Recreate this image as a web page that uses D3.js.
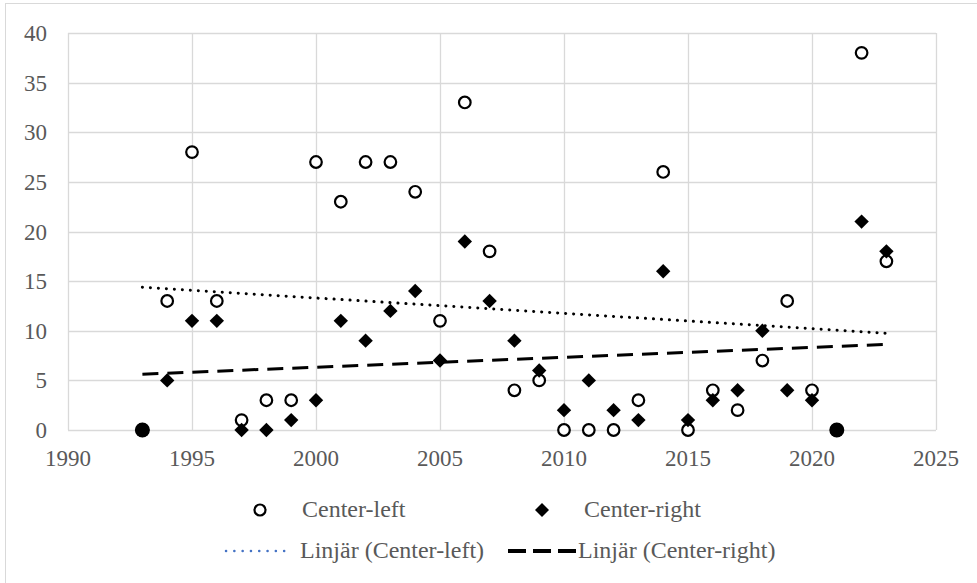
<!DOCTYPE html>
<html>
<head>
<meta charset="utf-8">
<script src="https://cdn.jsdelivr.net/npm/d3@7"></script>
<style>
  body { margin: 0; background: #fff; }
  svg { display: block; font-family: "Liberation Serif", "Times New Roman", serif; }
</style>
</head>
<body>
<div id="viz"></div>
<script>
// years and series values
var years = [1993, 1994, 1995, 1996, 1997, 1998, 1999, 2000, 2001, 2002, 2003, 2004, 2005, 2006, 2007,
             2008, 2009, 2010, 2011, 2012, 2013, 2014, 2015, 2016, 2017, 2018, 2019, 2020, 2021, 2022, 2023];
var centerLeft  = [0, 13, 28, 13, 1, 3, 3, 27, 23, 27, 27, 24, 11, 33, 18,
                   4, 5, 0, 0, 0, 3, 26, 0, 4, 2, 7, 13, 4, 0, 38, 17];
var centerRight = [0, 5, 11, 11, 0, 0, 1, 3, 11, 9, 12, 14, 7, 19, 13,
                   9, 6, 2, 5, 2, 1, 16, 1, 3, 4, 10, 4, 3, 0, 21, 18];
var xTicks = [1990, 1995, 2000, 2005, 2010, 2015, 2020, 2025];
var yTicks = [0, 5, 10, 15, 20, 25, 30, 35, 40];
var legendLabels = ['Center-left', 'Center-right', 'Linjär (Center-left)', 'Linjär (Center-right)'];

var width = 977, height = 583;
var margin = {left: 68, right: 41, top: 33, bottom: 153};

var svg = d3.select('#viz').append('svg')
  .attr('width', width)
  .attr('height', height);

// outer frame (right and bottom edges fall outside the picture)
svg.append('rect')
  .attr('x', 5.5).attr('y', 3.5)
  .attr('width', 980).attr('height', 590)
  .attr('fill', 'white')
  .attr('stroke', '#d9d9d9')
  .attr('stroke-width', 1);

var xScale = d3.scaleLinear()
  .domain([1990, 2025])
  .range([margin.left, width - margin.right]);

var yScale = d3.scaleLinear()
  .domain([0, 40])
  .range([height - margin.bottom, margin.top]);

// gridlines
svg.append('g')
  .selectAll('line').data(yTicks)
  .enter().append('line')
  .attr('x1', xScale(1990)).attr('x2', xScale(2025))
  .attr('y1', function(d){ return Math.round(yScale(d)) + 0.5; })
  .attr('y2', function(d){ return Math.round(yScale(d)) + 0.5; })
  .attr('stroke', '#d9d9d9').attr('stroke-width', 1.3);

svg.append('g')
  .selectAll('line').data(xTicks)
  .enter().append('line')
  .attr('y1', yScale(0)).attr('y2', yScale(40))
  .attr('x1', function(d){ return Math.round(xScale(d)) + 0.5; })
  .attr('x2', function(d){ return Math.round(xScale(d)) + 0.5; })
  .attr('stroke', '#d9d9d9').attr('stroke-width', 1.3);

// tick labels
svg.append('g')
  .selectAll('text').data(yTicks)
  .enter().append('text')
  .attr('x', 47)
  .attr('y', function(d){ return yScale(d) + 8; })
  .attr('text-anchor', 'end')
  .attr('font-size', 23)
  .attr('fill', '#595959')
  .text(function(d){ return d; });

svg.append('g')
  .selectAll('text').data(xTicks)
  .enter().append('text')
  .attr('x', function(d){ return xScale(d); })
  .attr('y', 466)
  .attr('text-anchor', 'middle')
  .attr('font-size', 23)
  .attr('fill', '#595959')
  .text(function(d){ return d; });

// linear trend (least squares)
function trend(xs, ys) {
  var mx = d3.mean(xs), my = d3.mean(ys);
  var num = d3.sum(xs, function(x, i){ return (x - mx) * (ys[i] - my); });
  var den = d3.sum(xs, function(x){ return (x - mx) * (x - mx); });
  var b = num / den, a = my - b * mx;
  var x0 = d3.min(xs), x1 = d3.max(xs);
  return [[x0, a + b * x0], [x1, a + b * x1]];
}

var line = d3.line()
  .x(function(d){ return xScale(d[0]); })
  .y(function(d){ return yScale(d[1]); });

svg.append('path')
  .attr('d', line(trend(years, centerLeft)))
  .attr('fill', 'none')
  .attr('stroke', 'black')
  .attr('stroke-width', 3)
  .attr('stroke-linecap', 'round')
  .attr('stroke-dasharray', '0.1 7.9');

svg.append('path')
  .attr('d', line(trend(years, centerRight)))
  .attr('fill', 'none')
  .attr('stroke', 'black')
  .attr('stroke-width', 3)
  .attr('stroke-dasharray', '16 9');

var diamond = 'M0,-7.2L7.2,0L0,7.2L-7.2,0Z';

// center-left circles
svg.append('g')
  .selectAll('circle').data(years)
  .enter().append('circle')
  .attr('cx', function(d){ return xScale(d); })
  .attr('cy', function(d, i){ return yScale(centerLeft[i]); })
  .attr('r', 5.8)
  .attr('fill', 'white')
  .attr('stroke', 'black')
  .attr('stroke-width', 2.2);

// center-right diamonds
svg.append('g')
  .selectAll('path').data(years)
  .enter().append('path')
  .attr('transform', function(d, i){ return 'translate(' + xScale(d) + ',' + yScale(centerRight[i]) + ')'; })
  .attr('d', diamond)
  .attr('fill', 'black');

// where both series meet, the marker shows as a solid dot
svg.append('g')
  .selectAll('circle').data(years.filter(function(d, i){ return centerLeft[i] === centerRight[i]; }))
  .enter().append('circle')
  .attr('cx', function(d){ return xScale(d); })
  .attr('cy', function(d){ var i = years.indexOf(d); return yScale(centerLeft[i]); })
  .attr('r', 7.5)
  .attr('fill', 'black');

// legend
var lg = svg.append('g').attr('font-size', 24).attr('fill', '#595959');

lg.append('circle')
  .attr('cx', 260).attr('cy', 510).attr('r', 5.5)
  .attr('fill', 'white').attr('stroke', 'black').attr('stroke-width', 2.2);
lg.append('text').attr('x', 302).attr('y', 517).text(legendLabels[0]);

lg.append('path')
  .attr('transform', 'translate(542,510)')
  .attr('d', 'M0,-7L7,0L0,7L-7,0Z')
  .attr('fill', 'black');
lg.append('text').attr('x', 584).attr('y', 517).text(legendLabels[1]);

lg.append('line')
  .attr('x1', 226).attr('x2', 292).attr('y1', 551).attr('y2', 551)
  .attr('stroke', '#4472c4').attr('stroke-width', 2.5)
  .attr('stroke-linecap', 'round').attr('stroke-dasharray', '0.1 8.2');
lg.append('text').attr('x', 300).attr('y', 558).text(legendLabels[2]);

lg.append('line')
  .attr('x1', 508).attr('x2', 577).attr('y1', 551).attr('y2', 551)
  .attr('stroke', 'black').attr('stroke-width', 4)
  .attr('stroke-dasharray', '18 7');
lg.append('text').attr('x', 578).attr('y', 558).text(legendLabels[3]);
</script>
</body>
</html>
